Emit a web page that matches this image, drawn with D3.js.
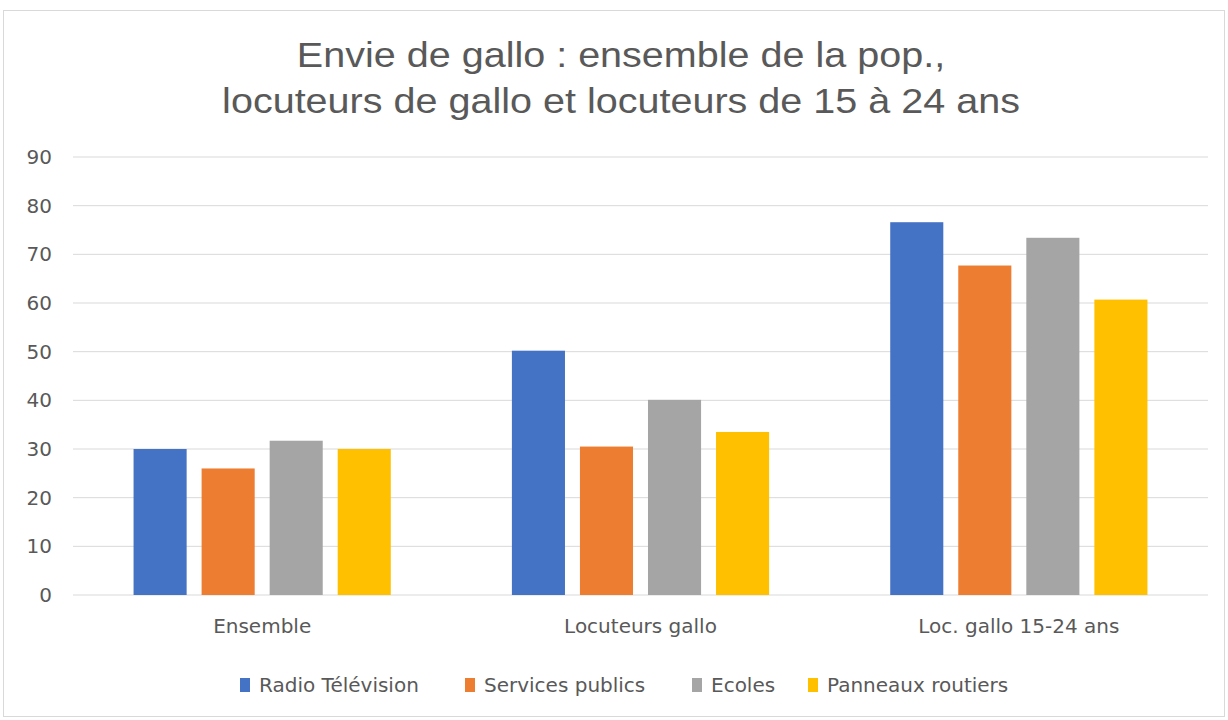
<!DOCTYPE html>
<html>
<head>
<meta charset="utf-8">
<script src="https://cdn.jsdelivr.net/npm/d3@7"></script>
<style>
  body { margin: 0; background: #fff; }
  svg { display: block; }
  text { font-family: "DejaVu Sans", "Liberation Sans", Arial, sans-serif; fill: #595959; }
  .title text { font-family: "Liberation Sans", Arial, sans-serif; }
</style>
</head>
<body>
<svg id="chart" width="1228" height="720"></svg>
<script>
// data
const categories = ['Ensemble', 'Locuteurs gallo', 'Loc. gallo 15-24 ans'];
const seriesNames = ['Radio Télévision', 'Services publics', 'Ecoles', 'Panneaux routiers'];
const radioTele = [30, 50.2, 76.6];
const servicesPublics = [26, 30.5, 67.7];
const ecoles = [31.7, 40.1, 73.4];
const panneaux = [30, 33.5, 60.7];
const yTicks = [0, 10, 20, 30, 40, 50, 60, 70, 80, 90];
const colors = ['#4472c4', '#ed7d31', '#a5a5a5', '#ffc000'];
const titleLines = ['Envie de gallo : ensemble de la pop.,', 'locuteurs de gallo et locuteurs de 15 à 24 ans'];

const allSeries = [radioTele, servicesPublics, ecoles, panneaux];

const svg = d3.select('#chart');

// chart border
svg.append('rect')
    .attr('x', 3.5).attr('y', 10.5)
    .attr('width', 1221).attr('height', 706)
    .attr('fill', '#fff')
    .attr('stroke', '#d9d9d9');

// title (the original is a bit wider than Arial, so stretch it)
svg.append('g')
    .attr('class', 'title')
    .attr('transform', 'translate(621,0) scale(1.13,1)')
    .selectAll('text')
    .data(titleLines)
    .enter()
    .append('text')
    .attr('x', 0)
    .attr('y', (d, i) => 67 + i * 46)
    .attr('text-anchor', 'middle')
    .attr('font-size', '35px')
    .text(d => d);

const plotLeft = 73, plotRight = 1208, plotTop = 157, plotBottom = 595;

const y = d3.scaleLinear().domain([0, 90]).range([plotBottom, plotTop]);
const x0 = d3.scaleBand().domain(categories).range([plotLeft, plotRight]).padding(0);
const x1 = d3.scaleBand().domain(d3.range(seriesNames.length))
    .range([0, x0.bandwidth()])
    .paddingInner(0.22)
    .paddingOuter(0.89);

// gridlines
svg.append('g')
    .selectAll('line')
    .data(yTicks)
    .enter()
    .append('line')
    .attr('x1', plotLeft).attr('x2', plotRight)
    .attr('y1', d => y(d)).attr('y2', d => y(d))
    .attr('stroke', '#d9d9d9')
    .attr('stroke-width', 1);

// y axis labels
const yAxis = svg.append('g')
    .attr('transform', `translate(${plotLeft - 21},0)`)
    .call(d3.axisLeft(y).tickValues(yTicks).tickSize(0).tickPadding(0));
yAxis.select('.domain').remove();
yAxis.selectAll('text')
    .attr('font-size', '20px')
    .attr('font-family', null)
    .style('fill', '#595959');

// bars
const groups = svg.append('g')
    .selectAll('g')
    .data(categories)
    .enter()
    .append('g')
    .attr('transform', d => `translate(${x0(d)},0)`);

groups.selectAll('rect')
    .data((c, ci) => allSeries.map((s, si) => ({ si, value: s[ci] })))
    .enter()
    .append('rect')
    .attr('x', d => x1(d.si))
    .attr('width', x1.bandwidth())
    .attr('y', d => y(d.value))
    .attr('height', d => plotBottom - y(d.value))
    .attr('fill', d => colors[d.si]);

// category labels
const xAxis = svg.append('g')
    .attr('transform', `translate(0,${plotBottom})`)
    .call(d3.axisBottom(x0).tickSize(0).tickPadding(24));
xAxis.select('.domain').remove();
xAxis.selectAll('text')
    .attr('font-size', '20px')
    .attr('font-family', null)
    .style('fill', '#595959');

// legend
const legendX = [240, 465, 692, 808];
const legend = svg.append('g')
    .selectAll('g')
    .data(seriesNames)
    .enter()
    .append('g')
    .attr('transform', (d, i) => `translate(${legendX[i]},678)`);

legend.append('rect')
    .attr('width', 10).attr('height', 14)
    .attr('fill', (d, i) => colors[i]);

legend.append('text')
    .attr('x', 19)
    .attr('y', 14)
    .attr('font-size', '20px')
    .text(d => d);
</script>
</body>
</html>
